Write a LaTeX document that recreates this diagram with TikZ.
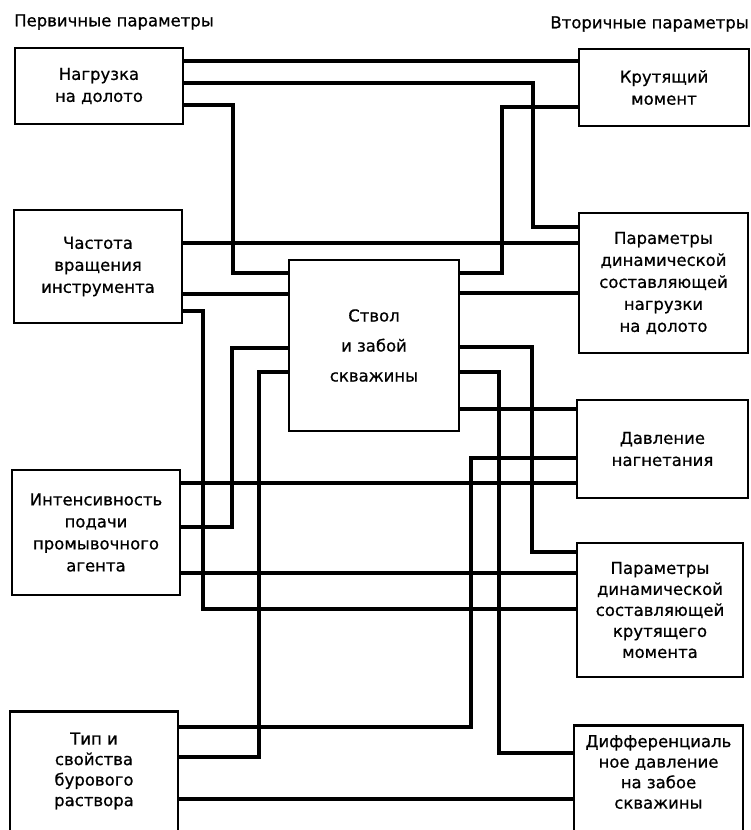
\documentclass[tikz,border=0pt]{standalone}
\usepackage{fontspec}
\setmainfont{DejaVu Sans}[FakeBold=0.7]
\begin{document}
\begin{tikzpicture}[x=1pt,y=-1pt,
  box/.style={draw, line width=2.7pt, inner sep=0pt, align=center,
    font=\fontsize{16.5}{22}\selectfont},
  boxtext/.style={align=center, inner sep=0pt, font=\fontsize{16.5}{20.5}\selectfont},
  head/.style={inner sep=0pt, font=\fontsize{16.5}{19}\selectfont},
  wire/.style={line width=4.6pt}]
\useasboundingbox (0,0) rectangle (751,830);
\clip (0,0) rectangle (751,830);

% column headings
\node[head, anchor=west] (hprim) at (14,22) {Первичные параметры};
\node[head, anchor=east] (hsec)  at (749,24) {Вторичные параметры};

% primary parameters (left column)
\node[box, minimum width=168, minimum height=76]  (P1) at (99,86)    {Нагрузка\\на долото};
\node[box, minimum width=168, minimum height=113] (P2) at (98,266.5) {Частота\\вращения\\инструмента};
\node[box, minimum width=168, minimum height=125] (P3) at (96,532.5) {Интенсивность\\подачи\\промывочного\\агента};
\node[box, minimum width=168, minimum height=130, anchor=north] (P4) at (94,710) {};
\node[boxtext] (P4t) at (94,771) {Тип и\\свойства\\бурового\\раствора};

% borehole
\node[box, minimum width=170, minimum height=171,
  font=\fontsize{16.5}{30}\selectfont] (C) at (374,345.5) {Ствол\\и забой\\скважины};

% secondary parameters (right column)
\node[box, minimum width=170, minimum height=77]  (S1) at (664,87.5)  {Крутящий\\момент};
\node[box, minimum width=169, minimum height=140] (S2) at (663.5,283) {Параметры\\динамической\\составляющей\\нагрузки\\на долото};
\node[box, minimum width=171, minimum height=98]  (S3) at (662.5,449) {Давление\\нагнетания};
\node[box, minimum width=166, minimum height=134, font=\fontsize{16.5}{21}\selectfont] (S4) at (660,610) {Параметры\\динамической\\составляющей\\крутящего\\момента};
\node[box, minimum width=169, minimum height=120, anchor=north] (S5) at (658.5,724) {};
\node[boxtext] (S5t) at (658.5,772) {Дифференциаль\\ное давление\\на забое\\скважины};

% links from the primary parameters
\draw[wire] (P1.east |- 0,61)  -- (S1.west |- 0,61);
\draw[wire] (P1.east |- 0,83)  -| (533,227) -- (S2.west |- 0,227);
\draw[wire] (P1.east |- 0,105) -| (233,273) -- (C.west |- 0,273);

\draw[wire] (P2.east |- 0,243) -- (S2.west |- 0,243);
\draw[wire] (P2.east |- 0,294) -- (C.west |- 0,294);
\draw[wire] (P2.east |- 0,311) -| (203,609) -- (S4.west |- 0,609);

\draw[wire] (P3.east |- 0,483) -- (S3.west |- 0,483);
\draw[wire] (P3.east |- 0,527) -| (232,348) -- (C.west |- 0,348);
\draw[wire] (P3.east |- 0,573) -- (S4.west |- 0,573);

\draw[wire] (P4.east |- 0,727) -| (471,458) -- (S3.west |- 0,458);
\draw[wire] (P4.east |- 0,757) -| (259,372) -- (C.west |- 0,372);
\draw[wire] (P4.east |- 0,799) -- (S5.west |- 0,799);

% links from the borehole
\draw[wire] (C.east |- 0,273) -| (502,107) -- (S1.west |- 0,107);
\draw[wire] (C.east |- 0,293) -- (S2.west |- 0,293);
\draw[wire] (C.east |- 0,347) -| (532,552) -- (S4.west |- 0,552);
\draw[wire] (C.east |- 0,372) -| (499,753) -- (S5.west |- 0,753);
\draw[wire] (C.east |- 0,409) -- (S3.west |- 0,409);
\end{tikzpicture}
\end{document}
